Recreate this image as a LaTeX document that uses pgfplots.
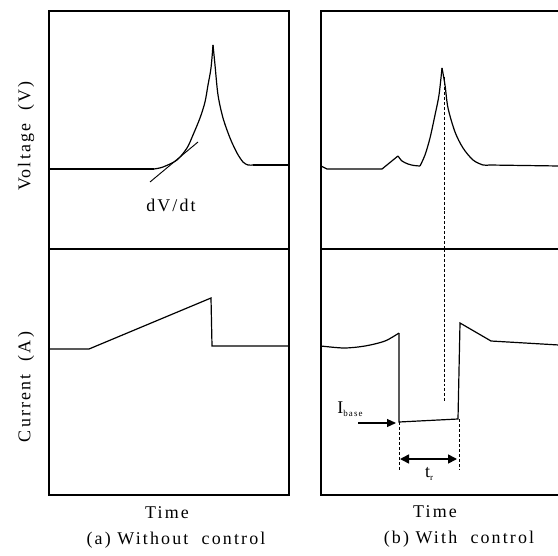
\documentclass[border=0pt]{standalone}
\usepackage{fontspec}
\setmainfont{Liberation Serif}[LetterSpace=12]
\usepackage{pgfplots}
\pgfplotsset{compat=1.18}
\usetikzlibrary{arrows.meta}
\begin{document}
\begin{tikzpicture}[x=1bp,y=1bp]
\fontsize{18}{20}\selectfont
\path[use as bounding box] (0,0) rectangle (558,-556);
\pgfplotsset{panel/.style={
  x=1bp, y=1bp, scale only axis, ticks=none, clip=false,
  anchor=south west, axis line style={line width=1.1bp}},
  curve/.style={black, line width=1.2bp, mark=none},
  scurve/.style={black, line width=1.2bp, mark=none, smooth, tension=0.5},
  guide/.style={black, line width=0.45bp, densely dashed, mark=none}}
% Left voltage
\begin{axis}[panel, at={(49,-249)}, xmin=0, xmax=240, ymin=0, ymax=238]
\addplot[curve] coordinates {(0,80) (105,80)};
\addplot[scurve] coordinates {(105,80) (114,82) (128,89) (138,101) (144,114) (151,131) (156,147) (159,164) (162,181) (164,204)};
\addplot[scurve] coordinates {(164,204) (166,184) (169,154) (174,131) (181,111) (188,96) (194,87) (199,84) (204,84)};
\addplot[curve] coordinates {(204,84) (240,84)};
\addplot[curve, line width=0.9bp] coordinates {(101,67) (149,107)};
\node at (axis cs:122,44) {dV/dt};
\end{axis}
% Left current
\begin{axis}[panel, at={(49,-495)}, xmin=0, xmax=240, ymin=0, ymax=246]
\addplot[curve] coordinates {(0,146) (40,146) (162,197) (163,149) (240,149)};
\end{axis}
% Right voltage
\begin{axis}[panel, at={(321,-249)}, xmin=0, xmax=238, ymin=0, ymax=238]
\addplot[curve] coordinates {(0,83) (6,80) (61,80) (77,93)};
\addplot[scurve] coordinates {(77,93) (81,88) (87,85) (93,83.5) (99,83)};
\addplot[scurve] coordinates {(99,83) (104,94) (109,111) (114,134) (118,154) (121,181)};
\addplot[scurve] coordinates {(121,181) (124,164) (127,141) (134,117) (142,101) (152,89) (162,84) (168,84)};
\addplot[curve] coordinates {(168,84) (238,83)};
\addplot[guide] coordinates {(123,172) (123,0)};
\end{axis}
% Right current
\begin{axis}[panel, at={(321,-495)}, xmin=0, xmax=238, ymin=0, ymax=246]
\addplot[scurve] coordinates {(0,149) (23,147) (44,149) (64,154) (78,162)};
\addplot[curve] coordinates {(78,162) (78,73) (137,76) (139,172) (170,154) (238,150)};
\addplot[guide] coordinates {(123,246) (123,92)};
\addplot[guide] coordinates {(78,73) (78,25)};
\addplot[guide] coordinates {(138,76) (138,25)};
\draw[line width=1.6bp, {Triangle[length=9bp,width=9bp]}-{Triangle[length=9bp,width=9bp]}] (axis cs:79,36) -- (axis cs:136,36);
\draw[line width=1.1bp, -{Triangle[length=9bp,width=8bp]}] (axis cs:37,72) -- (axis cs:75,72);
\node at (axis cs:108,21) {t\raisebox{-0.35ex}{\fontsize{9}{9}\selectfont r}};
\node at (axis cs:29,86) {I\raisebox{-0.35ex}{\fontsize{9}{9}\selectfont base}};
\end{axis}
% labels
\node[rotate=90] at (26,-136) {Voltage\ \ (V)};
\node[rotate=90] at (26,-387) {Current\ \ (A)};
\node at (167,-513) {Time};
\node at (435,-512) {Time};
\node at (176,-540) {(a) Without\ \ control};
\node at (459,-539) {(b) With\ \ control};
\end{tikzpicture}
\end{document}
